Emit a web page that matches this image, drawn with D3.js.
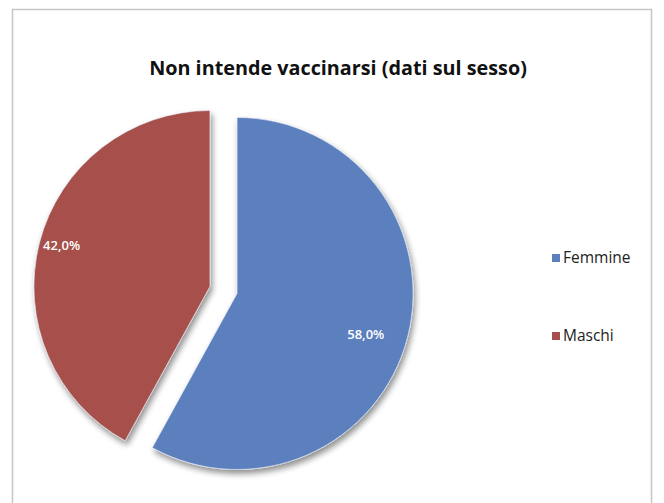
<!DOCTYPE html>
<html><head><meta charset="utf-8">
<script src="https://cdn.jsdelivr.net/npm/d3@7"></script>
<style>html,body{margin:0;padding:0;background:#fff;}svg{display:block;}</style>
</head><body>
<script>
const categories = ["Femmine", "Maschi"];
const values = [58.0, 42.0];
const labels = ["58,0%", "42,0%"];
const colors = ["#5b7fbe", "#a64f4c"];
const title = "Non intende vaccinarsi (dati sul sesso)";

const W = 664, H = 503;
const svg = d3.select("body").append("svg").attr("width", W).attr("height", H);

const defs = svg.append("defs");
const f = defs.append("filter").attr("id", "sh").attr("x", "-20%").attr("y", "-20%").attr("width", "140%").attr("height", "140%");
f.append("feGaussianBlur").attr("in", "SourceAlpha").attr("stdDeviation", 3).attr("result", "b");
f.append("feOffset").attr("in", "b").attr("dx", 2).attr("dy", 4).attr("result", "o");
f.append("feComponentTransfer").attr("in", "o").attr("result", "o2")
  .append("feFuncA").attr("type", "linear").attr("slope", 0.45);
const m = f.append("feMerge");
m.append("feMergeNode").attr("in", "o2");
m.append("feMergeNode").attr("in", "SourceGraphic");

// frame
svg.append("rect").attr("x", 12.5).attr("y", 9.5).attr("width", 639).attr("height", 500)
  .attr("fill", "#fff").attr("stroke", "#c6c6c6").attr("stroke-width", 1.5);

svg.append("text").attr("x", 338).attr("y", 75).attr("text-anchor", "middle")
  .attr("font-family", "'Open Sans', sans-serif").attr("font-weight", 700)
  .attr("font-size", 19.8).attr("fill", "#111").text(title);

const cx = 223.5, cy = 290, r = 176, explode = 14;
const pie = d3.pie().sort(null).value(d => d)(values);
const arc = d3.arc().innerRadius(0).outerRadius(r);

const g = svg.append("g").attr("transform", `translate(${cx},${cy})`);
const slices = g.selectAll("g.s").data(pie).join("g").attr("class", "s")
  .attr("transform", d => {
    const a = (d.startAngle + d.endAngle) / 2;
    return `translate(${Math.sin(a) * explode},${-Math.cos(a) * explode})`;
  });
slices.append("path").attr("d", arc).attr("fill", (d, i) => colors[i])
  .attr("stroke", "#e9eef7").attr("stroke-width", 1).attr("stroke-opacity", 0.6)
  .attr("filter", "url(#sh)");
slices.append("text")
  .attr("transform", (d, i) => {
    const k = i === 0 ? 0.755 : 0.87;
    const c = d3.arc().innerRadius(r * k).outerRadius(r * k).centroid(d);
    return `translate(${c[0]},${c[1] + (i === 0 ? 8 : -3)})`;
  })
  .attr("text-anchor", "middle").attr("dy", "0.35em")
  .attr("font-family", "'Open Sans', sans-serif").attr("font-weight", 600)
  .attr("font-size", 13).attr("fill", "#fff")
  .text((d, i) => labels[i]);

const leg = svg.append("g");
const li = leg.selectAll("g").data(categories).join("g")
  .attr("transform", (d, i) => `translate(552,${258 + i * 78})`);
li.append("rect").attr("x", 0).attr("y", -4).attr("width", 8).attr("height", 8)
  .attr("fill", (d, i) => colors[i]);
li.append("text").attr("x", 11).attr("dy", "0.35em")
  .attr("font-family", "'Open Sans', sans-serif").attr("font-size", 15.5).attr("fill", "#222")
  .text(d => d);
</script>
</body></html>
